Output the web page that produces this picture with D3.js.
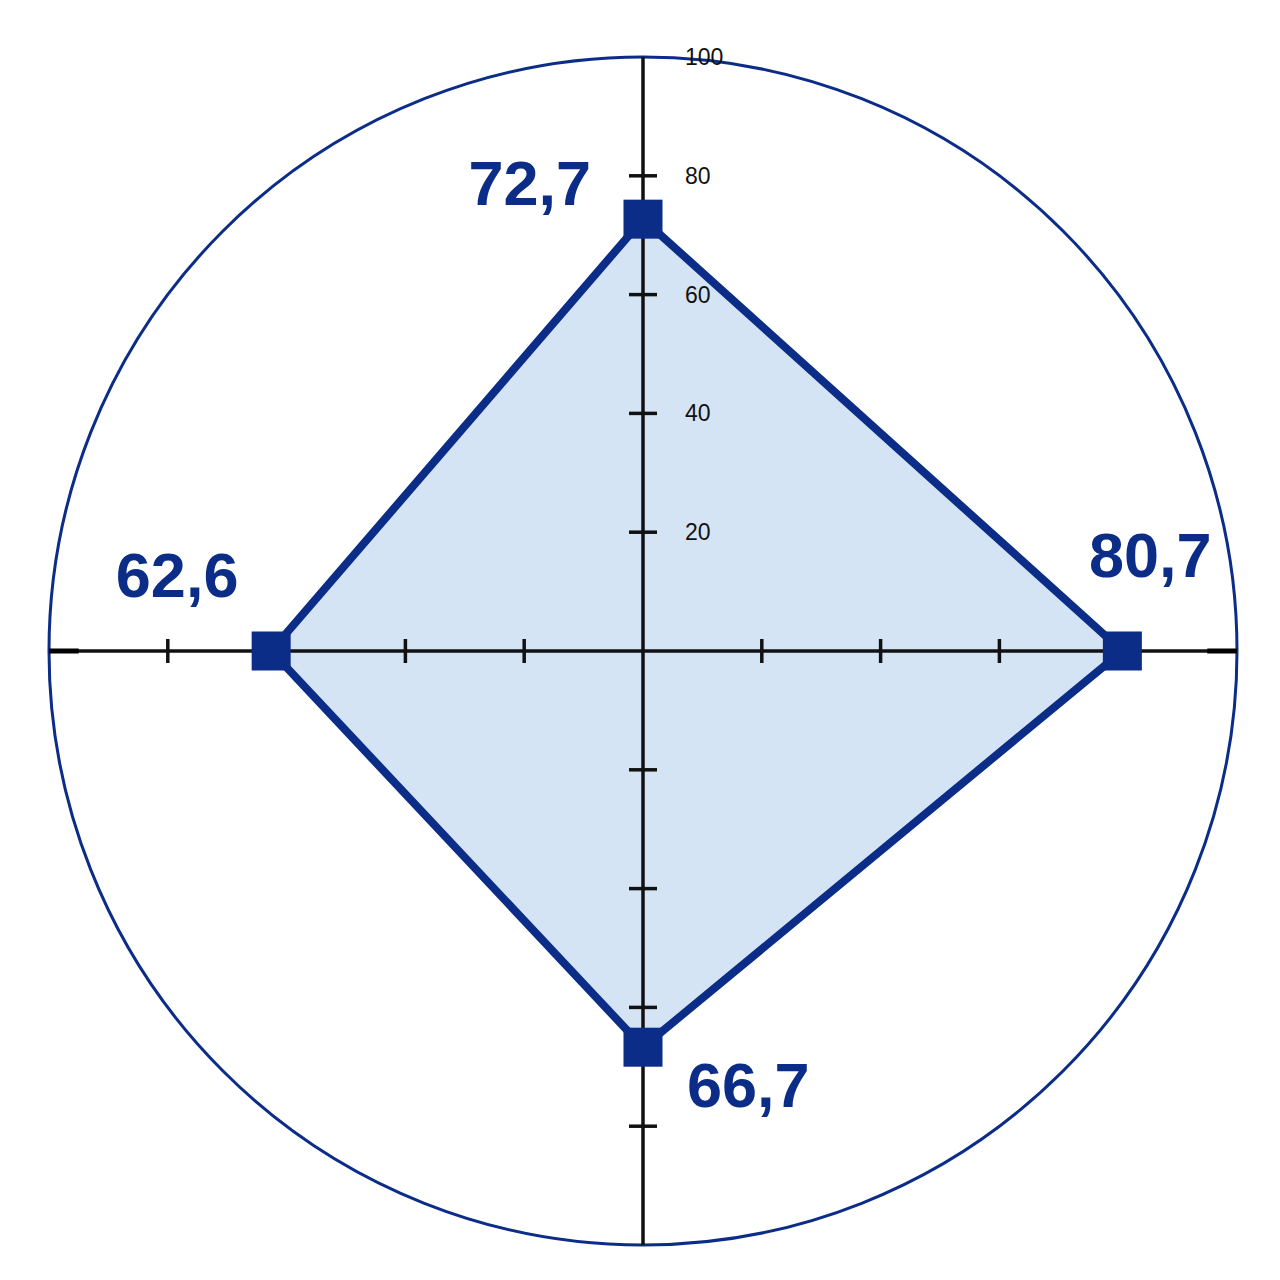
<!DOCTYPE html>
<html>
<head>
<meta charset="utf-8">
<script src="https://cdn.jsdelivr.net/npm/d3@7"></script>
<style>
  body { margin: 0; background: #fff; }
</style>
</head>
<body>
<script>
// radar chart - four axes, one series

const axisNames = ["top", "right", "bottom", "left"];
const values = [72.7, 80.7, 66.7, 62.6];
const valueLabels = ["72,7", "80,7", "66,7", "62,6"];
const tickValues = [20, 40, 60, 80, 100];
const tickLabels = ["20", "40", "60", "80", "100"];

// drawing parameters
const cx = 643, cy = 651;
const radius = 594;
const markerSize = 39;
const navy = "#0b2d88";

// where the value labels sit relative to their marker [dx, dy, anchor]
const labelOffsets = [
	[-52, -14, "end"],
	[28, -74, "middle"],
	[44, 60, "start"],
	[-94, -54, "middle"]
];

const svg = d3.select("body").append("svg")
	.attr("width", 1280)
	.attr("height", 1280);

const r = d3.scaleLinear().domain([0, 100]).range([0, radius]);
const angle = d3.scaleBand().domain(axisNames).range([0, 2 * Math.PI]).paddingInner(0).paddingOuter(0).align(0);

// point for axis i and value v (clockwise from the top)
function pos(name, v) {
	const a = angle(name);
	return [cx + Math.sin(a) * r(v), cy - Math.cos(a) * r(v)];
}

const g = svg.append("g");

// outer circle
g.append("circle")
	.attr("cx", cx)
	.attr("cy", cy)
	.attr("r", r(100))
	.attr("fill", "none")
	.attr("stroke", navy)
	.attr("stroke-width", 3);

// polygon fill first, axes on top, then outline
const pts = axisNames.map((n, i) => pos(n, values[i]));

g.append("path")
	.attr("d", d3.line()(pts) + "Z")
	.attr("fill", "#d5e4f5")
	.attr("stroke", "none");

// axes
g.selectAll("line.axis")
	.data(axisNames)
	.enter()
	.append("line")
	.attr("class", "axis")
	.attr("x1", cx)
	.attr("y1", cy)
	.attr("x2", n => pos(n, 100)[0])
	.attr("y2", n => pos(n, 100)[1])
	.attr("stroke", "#111")
	.attr("stroke-width", 3.5);

// little heavier end pieces on the horizontal axis
g.selectAll("line.axisEnd")
	.data(["left", "right"])
	.enter()
	.append("line")
	.attr("class", "axisEnd")
	.attr("x1", n => pos(n, 95)[0])
	.attr("y1", cy)
	.attr("x2", n => pos(n, 100)[0])
	.attr("y2", cy)
	.attr("stroke", "#000")
	.attr("stroke-width", 5);

// ticks on every axis (not at 100)
const tickData = [];
axisNames.forEach(n => {
	tickValues.filter(t => t < 100).forEach(t => tickData.push({ axis: n, v: t }));
});

g.selectAll("line.tick")
	.data(tickData)
	.enter()
	.append("line")
	.attr("class", "tick")
	.attr("x1", d => {
		const p = pos(d.axis, d.v);
		return (d.axis === "top" || d.axis === "bottom") ? p[0] - 14 : p[0];
	})
	.attr("x2", d => {
		const p = pos(d.axis, d.v);
		return (d.axis === "top" || d.axis === "bottom") ? p[0] + 14 : p[0];
	})
	.attr("y1", d => {
		const p = pos(d.axis, d.v);
		return (d.axis === "top" || d.axis === "bottom") ? p[1] : p[1] - 12;
	})
	.attr("y2", d => {
		const p = pos(d.axis, d.v);
		return (d.axis === "top" || d.axis === "bottom") ? p[1] : p[1] + 12;
	})
	.attr("stroke", "#111")
	.attr("stroke-width", 3.5);

// tick labels on the top axis only
g.selectAll("text.tickLabel")
	.data(tickValues)
	.enter()
	.append("text")
	.attr("class", "tickLabel")
	.attr("x", cx + 42)
	.attr("y", v => pos("top", v)[1] + 8)
	.attr("font-family", "'Liberation Sans Narrow', 'Liberation Sans', Arial, sans-serif")
	.attr("font-size", 23)
	.attr("fill", "#111")
	.text((v, i) => tickLabels[i]);

// outline
g.append("path")
	.attr("d", d3.line()(pts) + "Z")
	.attr("fill", "none")
	.attr("stroke", navy)
	.attr("stroke-width", 8)
	.attr("stroke-linejoin", "miter");

// markers
g.selectAll("rect.marker")
	.data(pts)
	.enter()
	.append("rect")
	.attr("class", "marker")
	.attr("x", p => p[0] - markerSize / 2)
	.attr("y", p => p[1] - markerSize / 2)
	.attr("width", markerSize)
	.attr("height", markerSize)
	.attr("fill", navy);

// value labels
g.selectAll("text.valueLabel")
	.data(pts)
	.enter()
	.append("text")
	.attr("class", "valueLabel")
	.attr("x", (p, i) => p[0] + labelOffsets[i][0])
	.attr("y", (p, i) => p[1] + labelOffsets[i][1])
	.attr("text-anchor", (p, i) => labelOffsets[i][2])
	.attr("font-family", "'Liberation Sans', Arial, sans-serif")
	.attr("font-weight", "bold")
	.attr("font-size", 63)
	.attr("fill", navy)
	.text((p, i) => valueLabels[i]);
</script>
</body>
</html>
